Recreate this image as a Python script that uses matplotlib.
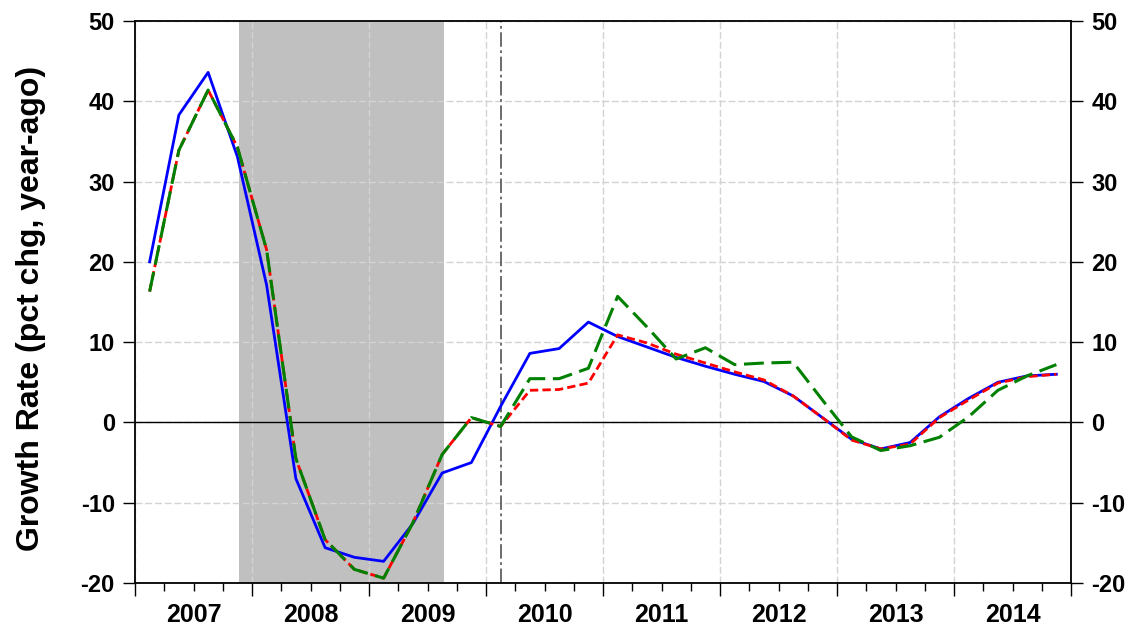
import numpy as np
import matplotlib
matplotlib.use("Agg")
from matplotlib import pyplot as plt
from matplotlib.ticker import FixedLocator, FixedFormatter

plt.rcParams['font.family'] = ['Liberation Sans', 'DejaVu Sans']
plt.rcParams['font.weight'] = 'bold'
plt.rcParams['axes.unicode_minus'] = False

# quarterly data 2007Q1 .. 2014Q4
quarters = np.arange(2007, 2015, 0.25) + 0.125
blue = [20.0, 38.3, 43.6, 33.1, 17.1, -7.0, -15.6, -16.8,
        -17.3, -12.6, -6.3, -5.0, 2.0, 8.6, 9.2, 12.5,
        10.7, 9.4, 8.1, 7.0, 6.0, 5.1, 3.3, 0.6,
        -2.1, -3.3, -2.5, 0.7, 3.0, 5.0, 5.8, 6.0]
red = [16.3, 33.9, 41.4, 34.3, 21.5, -4.5, -14.6, -18.3,
       -19.4, -12.5, -4.0, 0.6, -0.5, 4.0, 4.1, 4.9,
       10.9, 9.9, 8.5, 7.4, 6.3, 5.3, 3.3, 0.6,
       -2.2, -3.3, -2.7, 0.6, 2.8, 4.9, 5.7, 6.0]
green = [16.3, 33.9, 41.4, 34.3, 21.5, -4.5, -14.6, -18.3,
         -19.4, -12.5, -4.0, 0.6, -0.5, 5.45, 5.45, 6.75,
         15.7, 11.9, 7.9, 9.3, 7.2, 7.4, 7.5, 2.8,
         -1.8, -3.5, -2.9, -1.85, 0.7, 4.0, 5.8, 7.2]
years = ['2007', '2008', '2009', '2010', '2011', '2012', '2013', '2014']
recession = (2007.89, 2009.64)
break_date = 2010.125

fig = plt.figure(figsize=(11.33, 6.31), dpi=100)
ax = fig.add_axes([135 / 1133, 1 - 583 / 631, 936 / 1133, 562 / 631])

ax.axvspan(recession[0], recession[1], color='#c0c0c0', lw=0, zorder=0.2)
ax.axhline(0, color='black', lw=1.0, zorder=1)
ax.axvline(break_date, color='#606060', lw=1.3, ls=(0, (8, 2, 1.5, 2)), zorder=1)

ax.plot(quarters, blue, color='#0000ff', lw=2.0, zorder=3)
ax.plot(quarters, red, color='#ff0000', lw=2.0, ls=(0, (3, 1.5)), zorder=4)
ax.plot(quarters, green, color='#008000', lw=2.2, ls=(0, (6.5, 2.5)), zorder=5)

ax.set_xlim(2007, 2015)
ax.set_ylim(-20, 50)
ax.set_yticks(range(-20, 51, 10))

# year boundaries = major ticks, quarters = minor ticks (labels at mid-year)
ax.xaxis.set_major_locator(FixedLocator(np.arange(2007, 2016)))
ax.xaxis.set_major_formatter(FixedFormatter([''] * 9))
minor = [y + q for y in range(2007, 2015) for q in (0.25, 0.5, 0.75)]
ax.xaxis.set_minor_locator(FixedLocator(minor))
ax.xaxis.set_minor_formatter(FixedFormatter(
    [years[i // 3] if i % 3 == 1 else '' for i in range(len(minor))]))

ax.tick_params(axis='x', which='major', length=9.5, width=1.0, direction='out')
ax.tick_params(axis='x', which='minor', length=5.8, width=1.0, direction='out',
               labelsize=18, pad=8.5)
ax.tick_params(axis='y', length=8.5, width=1.0, direction='out', labelsize=17,
               pad=6, right=True, labelright=True)

ax.set_axisbelow(True)
ax.grid(True, which='major', color='#d3d3d3', lw=1.0, ls=(0, (5, 2)))
ax.grid(False, which='minor')

for s in ax.spines.values():
    s.set_linewidth(1.3)

ax.set_ylabel('Growth Rate (pct chg, year-ago)', fontsize=23, fontweight='bold')
ax.yaxis.set_label_coords(-0.095, 0.488)

fig.savefig('out.png', dpi=100)
